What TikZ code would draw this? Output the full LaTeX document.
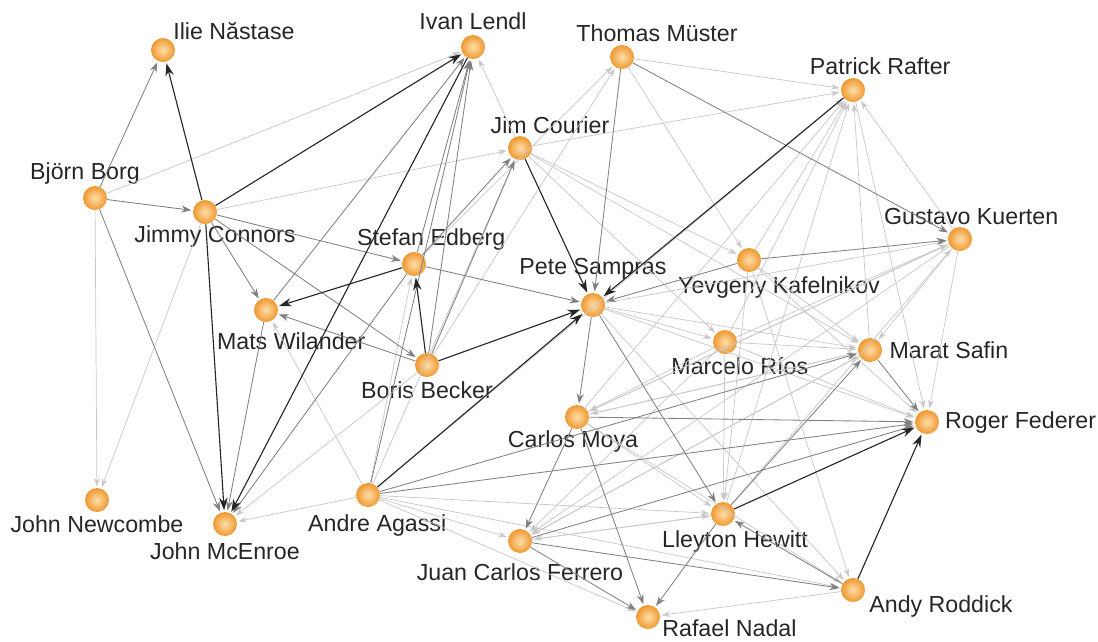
\documentclass[tikz,border=0pt]{standalone}
\usepackage{fontspec}
\setmainfont{Liberation Sans}
\usetikzlibrary{arrows.meta}

\definecolor{ballout}{RGB}{240,152,48}
\definecolor{ballin}{RGB}{253,222,170}

\tikzset{
  player/.style={circle, minimum size=0.6cm, inner sep=0pt, shade, inner color=ballin, outer color=ballout},
  lbl/.style={font=\fontsize{16.5}{19}\selectfont, text=black!85, inner sep=1pt},
  heavy/.style={->, >={Stealth[length=9pt,width=6pt]}, black!85, line width=0.8pt, shorten >=1pt},
  medium/.style={->, >={Stealth[length=7pt,width=5pt]}, black!50, line width=0.6pt, shorten >=1pt},
  faint/.style={->, >={Stealth[length=6pt,width=4pt]}, black!22, line width=0.5pt, shorten >=1pt},
}

\begin{document}
\begin{tikzpicture}[x=0.025cm, y=-0.025cm]
\useasboundingbox (0,0) rectangle (1098,641);

\node[player, label={[lbl]above right:Ilie Năstase}] (nastase) at (163,50) {};
\node[player, label={[lbl,label distance=2pt]above:Ivan Lendl}] (lendl) at (473,47) {};
\node[player, label={[lbl,xshift=0.875cm,label distance=1pt]above:Thomas Müster}] (muster) at (622,57) {};
\node[player, label={[lbl,xshift=0.68cm,label distance=1pt]above:Patrick Rafter}] (rafter) at (853,90) {};
\node[player, label={[lbl,xshift=0.75cm]above:Jim Courier}] (courier) at (520,148) {};
\node[player, label={[lbl,xshift=-0.25cm]above:Björn Borg}] (borg) at (95,198) {};
\node[player, label={[lbl,xshift=0.25cm]below:Jimmy Connors}] (connors) at (205,212) {};
\node[player, label={[lbl,xshift=0.43cm]above:Stefan Edberg}] (edberg) at (414,264) {};
\node[player, label={[lbl,xshift=0.28cm]above:Gustavo Kuerten}] (kuerten) at (960,239) {};
\node[player, label={[lbl,xshift=0.75cm,label distance=2pt]below:Yevgeny Kafelnikov}] (kafelnikov) at (749,260) {};
\node[player, label={[lbl,label distance=8pt]above:Pete Sampras}] (sampras) at (593,305) {};
\node[player, label={[lbl,xshift=0.63cm,label distance=6pt]below:Mats Wilander}] (wilander) at (266,310) {};
\node[player, label={[lbl,xshift=0.37cm,label distance=1pt]below:Marcelo Ríos}] (rios) at (725,342) {};
\node[player, label={[lbl,label distance=4pt]right:Marat Safin}] (safin) at (870,350) {};
\node[player, label={[lbl,label distance=3pt]right:Roger Federer}] (federer) at (927,422) {};
\node[player, label={[lbl,label distance=2pt]below:Boris Becker}] (becker) at (427,365) {};
\node[player, label={[lbl,xshift=-0.1cm]below:Carlos Moya}] (moya) at (577,417) {};
\node[player, label={[lbl,label distance=1pt]below:John Newcombe}] (newcombe) at (97,500) {};
\node[player, label={[lbl,label distance=3pt]below:John McEnroe}] (mcenroe) at (225,524) {};
\node[player, label={[lbl,xshift=0.23cm,label distance=4pt]below:Andre Agassi}] (agassi) at (368,495) {};
\node[player, label={[lbl,label distance=6pt]below:Juan Carlos Ferrero}] (ferrero) at (520,541) {};
\node[player, label={[lbl,xshift=0.3cm,label distance=2pt]below:Lleyton Hewitt}] (hewitt) at (723,514) {};
\node[player, label={[lbl,xshift=0.15cm,yshift=0.12cm]below right:Andy Roddick}] (roddick) at (853,590) {};
\node[player, label={[lbl,xshift=0.1cm,yshift=0.18cm]below right:Rafael Nadal}] (nadal) at (648,617) {};

\foreach \a/\b in {borg/newcombe, connors/newcombe, borg/lendl, connors/courier, agassi/mcenroe, agassi/wilander,
  agassi/edberg, agassi/courier, becker/muster, edberg/muster, courier/lendl, courier/rafter, courier/kafelnikov,
  courier/safin, muster/rafter, kafelnikov/rafter, rios/rafter, moya/rafter, hewitt/rafter, safin/rafter,
  kuerten/rafter, agassi/rafter, sampras/kuerten, rios/kuerten, moya/kuerten, hewitt/kuerten, kuerten/safin,
  kafelnikov/safin, rios/safin, moya/safin, ferrero/safin, sampras/safin, rios/federer, kafelnikov/federer,
  sampras/federer, kuerten/federer, rafter/federer, kafelnikov/hewitt, moya/hewitt, rios/hewitt, agassi/hewitt,
  ferrero/hewitt, safin/moya, rios/moya, kuerten/moya, safin/ferrero, hewitt/ferrero, kuerten/ferrero,
  rios/ferrero, sampras/roddick, kafelnikov/roddick, agassi/nadal, roddick/nadal, sampras/rios, agassi/ferrero,
  becker/mcenroe, moya/roddick, agassi/roddick, courier/rios, muster/kafelnikov}
  \draw[faint] (\a) -- (\b);

\foreach \a/\b in {borg/connors, borg/mcenroe, borg/nastase, becker/lendl, edberg/lendl, wilander/lendl,
  edberg/mcenroe, wilander/mcenroe, connors/wilander, connors/becker, connors/edberg, edberg/sampras,
  safin/federer, kafelnikov/kuerten, kafelnikov/sampras, muster/sampras, muster/kuerten,
  moya/nadal, ferrero/nadal, hewitt/nadal, moya/ferrero, roddick/hewitt, ferrero/roddick, agassi/federer,
  ferrero/federer, moya/federer, sampras/hewitt, sampras/moya, becker/courier, agassi/lendl, agassi/safin,
  hewitt/safin, becker/wilander, edberg/courier}
  \draw[medium] (\a) -- (\b);

\foreach \a/\b in {connors/lendl, connors/mcenroe, lendl/mcenroe, agassi/sampras, becker/sampras,
  courier/sampras, rafter/sampras, hewitt/federer, roddick/federer, becker/edberg, connors/nastase,
  edberg/wilander}
  \draw[heavy] (\a) -- (\b);
\end{tikzpicture}
\end{document}
